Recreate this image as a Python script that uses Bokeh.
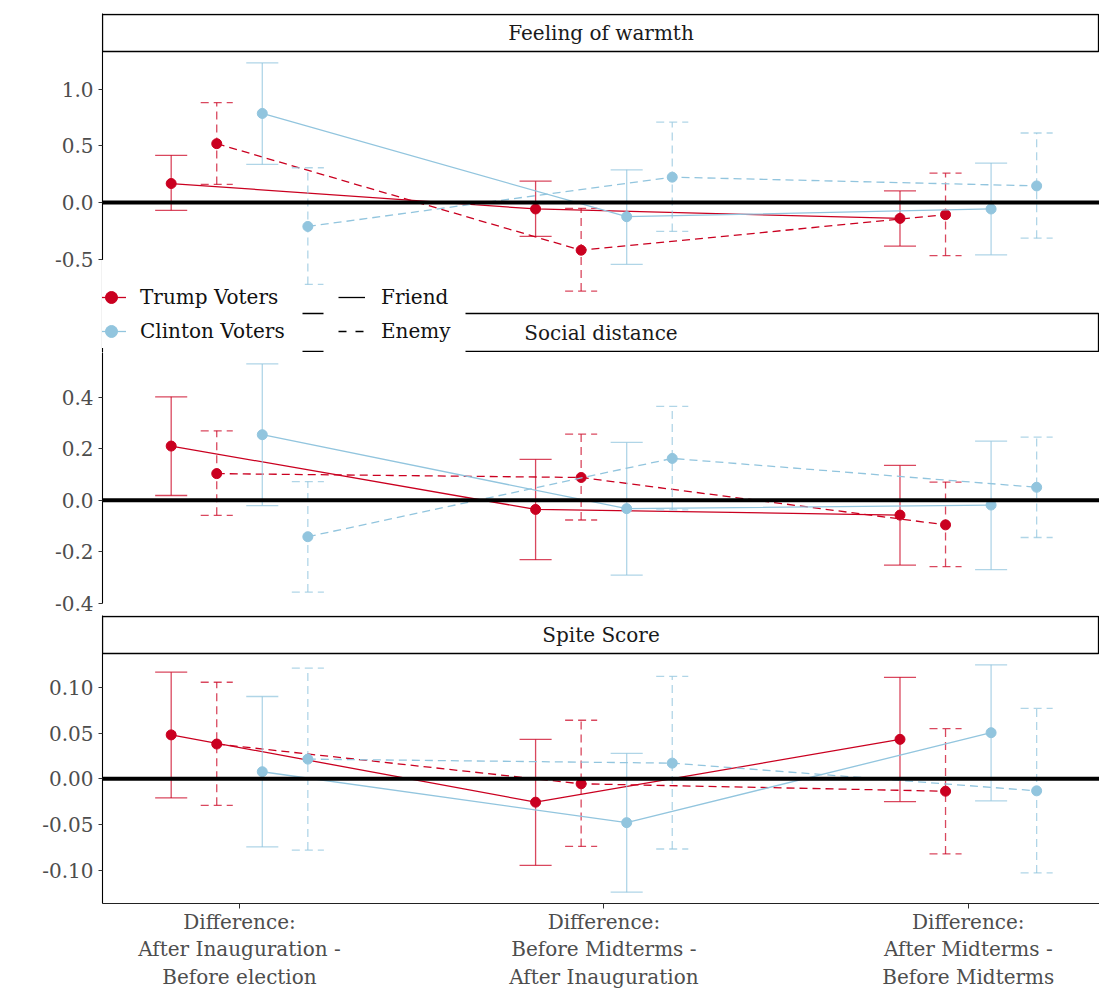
import numpy as np
from math import pi
from bokeh.plotting import figure
from bokeh.models import Range1d, FixedTicker, Span, Label, Legend, LegendItem
from bokeh.layouts import column
from bokeh.embed import file_html
from bokeh.resources import INLINE

# ---------------- data ----------------
categories = ["Difference:\nAfter Inauguration -\nBefore election",
              "Difference:\nBefore Midterms -\nAfter Inauguration",
              "Difference:\nAfter Midterms -\nBefore Midterms"]
voter_groups = ["Trump Voters", "Clinton Voters"]
relations = ["Friend", "Enemy"]

# Panel 1: strip "Feeling of warmth", y title "Spite Score"
p1_strip = "Feeling of warmth"
p1_ylabel = "Spite Score"
p1_ticks = [-0.5, 0.0, 0.5, 1.0]
p1_tick_labels = ["-0.5", "0.0", "0.5", "1.0"]
p1_trump_friend = [0.168, -0.056, -0.139]
p1_trump_friend_lo = [-0.068, -0.298, -0.383]
p1_trump_friend_hi = [0.416, 0.189, 0.103]
p1_trump_enemy = [0.519, -0.419, -0.106]
p1_trump_enemy_lo = [0.160, -0.779, -0.466]
p1_trump_enemy_hi = [0.880, -0.050, 0.259]
p1_clinton_friend = [0.785, -0.124, -0.056]
p1_clinton_friend_lo = [0.336, -0.543, -0.460]
p1_clinton_friend_hi = [1.230, 0.289, 0.348]
p1_clinton_enemy = [-0.210, 0.224, 0.147]
p1_clinton_enemy_lo = [-0.720, -0.254, -0.313]
p1_clinton_enemy_hi = [0.307, 0.708, 0.613]

# Panel 2: strip "Social distance", y title "Social Distance"
p2_strip = "Social distance"
p2_ylabel = "Social Distance"
p2_ticks = [-0.4, -0.2, 0.0, 0.2, 0.4]
p2_tick_labels = ["-0.4", "-0.2", "0.0", "0.2", "0.4"]
p2_trump_friend = [0.210, -0.036, -0.058]
p2_trump_friend_lo = [0.018, -0.231, -0.252]
p2_trump_friend_hi = [0.401, 0.158, 0.135]
p2_trump_enemy = [0.103, 0.088, -0.096]
p2_trump_enemy_lo = [-0.059, -0.077, -0.258]
p2_trump_enemy_hi = [0.269, 0.256, 0.070]
p2_clinton_friend = [0.254, -0.033, -0.019]
p2_clinton_friend_lo = [-0.021, -0.291, -0.270]
p2_clinton_friend_hi = [0.529, 0.224, 0.229]
p2_clinton_enemy = [-0.142, 0.162, 0.050]
p2_clinton_enemy_lo = [-0.357, -0.038, -0.145]
p2_clinton_enemy_hi = [0.072, 0.364, 0.245]

# Panel 3: strip "Spite Score", y title "Feeling of warmth"
p3_strip = "Spite Score"
p3_ylabel = "Feeling of warmth"
p3_ticks = [-0.10, -0.05, 0.0, 0.05, 0.10]
p3_tick_labels = ["-0.10", "-0.05", "0.00", "0.05", "0.10"]
p3_trump_friend = [0.048, -0.0256, 0.0431]
p3_trump_friend_lo = [-0.021, -0.0947, -0.0249]
p3_trump_friend_hi = [0.1166, 0.043, 0.111]
p3_trump_enemy = [0.038, -0.0055, -0.0136]
p3_trump_enemy_lo = [-0.029, -0.074, -0.0822]
p3_trump_enemy_hi = [0.1056, 0.064, 0.0548]
p3_clinton_friend = [0.0077, -0.048, 0.0504]
p3_clinton_friend_lo = [-0.0746, -0.124, -0.0241]
p3_clinton_friend_hi = [0.090, 0.0278, 0.1246]
p3_clinton_enemy = [0.0215, 0.0171, -0.0132]
p3_clinton_enemy_lo = [-0.078, -0.0768, -0.103]
p3_clinton_enemy_hi = [0.121, 0.112, 0.0771]

# ---------------- style ----------------
FONT = "DejaVu Serif"
RED = "#CA0020"
BLUE = "#92C5DE"
COLORS = {"Trump Voters": RED, "Clinton Voters": BLUE}
DASHES = {"Friend": "solid", "Enemy": "8 5"}
OFFSETS = {("Trump Voters", "Friend"): -0.1875, ("Trump Voters", "Enemy"): -0.0625,
           ("Clinton Voters", "Friend"): 0.0625, ("Clinton Voters", "Enemy"): 0.1875}
CAP = 0.044
FW = 997
XR = (0.624, 3.36)
STRIP_H = 38


def series_of(est_tf, lo_tf, hi_tf, est_te, lo_te, hi_te, est_cf, lo_cf, hi_cf, est_ce, lo_ce, hi_ce):
    return {("Trump Voters", "Friend"): (est_tf, lo_tf, hi_tf),
            ("Trump Voters", "Enemy"): (est_te, lo_te, hi_te),
            ("Clinton Voters", "Friend"): (est_cf, lo_cf, hi_cf),
            ("Clinton Voters", "Enemy"): (est_ce, lo_ce, hi_ce)}


def make_panel(series, ticks, tick_labels, ylabel, frame_h, pan_bottom, pan_h, label_y, strips,
               border_top, border_bottom, with_xaxis):
    lo = min(min(v[1]) for v in series.values())
    hi = max(max(v[2]) for v in series.values())
    span = hi - lo
    lo -= 0.05 * span
    hi += 0.05 * span
    s = (hi - lo) / pan_h
    y_start = lo - pan_bottom * s
    y_end = hi + (frame_h - pan_bottom - pan_h) * s

    p = figure(frame_width=FW, frame_height=frame_h, x_range=Range1d(*XR),
               y_range=Range1d(y_start, y_end), output_backend="svg", toolbar_location=None,
               title=None, min_border_left=102, min_border_right=0,
               min_border_top=border_top, min_border_bottom=border_bottom,
               x_axis_location="below" if with_xaxis else None, y_axis_location="left")
    p.extra_x_ranges = {"pxx": Range1d(0, FW)}
    p.extra_y_ranges = {"px": Range1d(0, frame_h)}
    p.grid.visible = False
    p.outline_line_color = None
    p.background_fill_color = "white"
    p.border_fill_color = "white"

    ya = p.yaxis[0]
    ya.ticker = FixedTicker(ticks=ticks)
    ya.major_label_overrides = {t: l for t, l in zip(ticks, tick_labels)}
    ya.axis_line_color = "black"
    ya.axis_line_width = 1.1
    ya.major_tick_out = 4
    ya.major_tick_in = 0
    ya.minor_tick_out = 0
    ya.minor_tick_in = 0
    ya.major_tick_line_color = "#333333"
    ya.major_label_text_font = FONT
    ya.major_label_text_font_size = "20px"
    ya.major_label_text_color = "#4D4D4D"
    ya.major_label_standoff = 5

    if with_xaxis:
        xa = p.xaxis[0]
        xa.ticker = FixedTicker(ticks=[1, 2, 3])
        xa.major_label_overrides = {i + 1: c for i, c in enumerate(categories)}
        xa.axis_line_color = "#222222"
        xa.axis_line_width = 1.1
        xa.major_tick_out = 5
        xa.major_tick_in = 0
        xa.minor_tick_out = 0
        xa.minor_tick_in = 0
        xa.major_tick_line_color = "#333333"
        xa.major_label_text_font = FONT
        xa.major_label_text_font_size = "20px"
        xa.major_label_text_color = "#4D4D4D"
        xa.major_label_text_line_height = 1.16
        xa.major_label_standoff = 1

    # facet strips
    for (b, t, txt) in strips:
        p.quad(left=0, right=FW - 1, bottom=b, top=t, x_range_name="pxx", y_range_name="px",
               fill_color="white", line_color="black", line_width=1.3)
        p.add_layout(Label(x=FW / 2, y=(b + t) / 2, x_range_name="pxx", y_range_name="px",
                           text=txt, text_align="center", text_baseline="middle",
                           text_font=FONT, text_font_size="20px", text_color="#1A1A1A"))

    renderers = {}
    for g in voter_groups:
        for r in relations:
            est, lo_v, hi_v = series[(g, r)]
            x = np.arange(1, len(categories) + 1) + OFFSETS[(g, r)]
            est = np.array(est); lo_v = np.array(lo_v); hi_v = np.array(hi_v)
            # error bars: shaft + caps
            x0 = np.concatenate([x, x - CAP, x - CAP])
            x1 = np.concatenate([x, x + CAP, x + CAP])
            y0 = np.concatenate([lo_v, lo_v, hi_v])
            y1 = np.concatenate([hi_v, lo_v, hi_v])
            p.segment(x0=x0, y0=y0, x1=x1, y1=y1, line_color=COLORS[g], line_alpha=0.72,
                      line_width=1.3, line_dash=DASHES[r])
            ln = p.line(x=x, y=est, line_color=COLORS[g], line_width=1.3, line_dash=DASHES[r])
            sc = p.scatter(x=x, y=est, size=10, fill_color=COLORS[g], line_color=COLORS[g])
            renderers[(g, r)] = (ln, sc)

    p.add_layout(Span(location=0, dimension="width", line_color="black", line_width=4))

    p.add_layout(Label(x=-78, y=label_y, x_range_name="pxx", y_range_name="px", text=ylabel,
                       angle=pi / 2, text_align="center", text_baseline="middle",
                       text_font=FONT, text_font_size="20px", text_color="black"))
    return p, renderers


s1 = series_of(p1_trump_friend, p1_trump_friend_lo, p1_trump_friend_hi,
               p1_trump_enemy, p1_trump_enemy_lo, p1_trump_enemy_hi,
               p1_clinton_friend, p1_clinton_friend_lo, p1_clinton_friend_hi,
               p1_clinton_enemy, p1_clinton_enemy_lo, p1_clinton_enemy_hi)
s2 = series_of(p2_trump_friend, p2_trump_friend_lo, p2_trump_friend_hi,
               p2_trump_enemy, p2_trump_enemy_lo, p2_trump_enemy_hi,
               p2_clinton_friend, p2_clinton_friend_lo, p2_clinton_friend_hi,
               p2_clinton_enemy, p2_clinton_enemy_lo, p2_clinton_enemy_hi)
s3 = series_of(p3_trump_friend, p3_trump_friend_lo, p3_trump_friend_hi,
               p3_trump_enemy, p3_trump_enemy_lo, p3_trump_enemy_hi,
               p3_clinton_friend, p3_clinton_friend_lo, p3_clinton_friend_hi,
               p3_clinton_enemy, p3_clinton_enemy_lo, p3_clinton_enemy_hi)

# figure 1: strip1 + panel1 + gap + strip2
F1_H = 339
f1, r1 = make_panel(s1, p1_ticks, p1_tick_labels, p1_ylabel, F1_H, 50, 251, 208,
                    [(F1_H - STRIP_H - 0, F1_H - 1, p1_strip), (1, 39, p2_strip)],
                    13, 0, False)
# figure 2: panel 2
f2, r2 = make_panel(s2, p2_ticks, p2_tick_labels, p2_ylabel, 251, 0, 251, 161, [], 0, 12, False)
# figure 3: strip3 + panel 3 + x axis
F3_H = 288
f3, r3 = make_panel(s3, p3_ticks, p3_tick_labels, p3_ylabel, F3_H, 0, 250, 128,
                    [(250, F3_H - 1, p3_strip)], 0, 0, True)

# legend key renderers for the line types (data lies outside the visible range)
blk_solid = f1.line(x=[-5, -4], y=[0, 0], line_color="black", line_width=1.3)
blk_dash = f1.line(x=[-5, -4], y=[0, 0], line_color="black", line_width=1.3, line_dash="8 9")

# white boxes behind the two legend keys (cover lower panel 1 and the strip of panel 2)
f1.quad(left=[0, 221], right=[200, 363], bottom=[0, 0], top=[97, 97],
        x_range_name="pxx", y_range_name="px", fill_color="white", line_color=None)

common = dict(background_fill_color="white", background_fill_alpha=1.0, border_line_color=None,
              spacing=0, glyph_height=34, label_height=34, label_text_font=FONT,
              label_text_font_size="20px", label_text_color="#111111", title=" ",
              title_text_font_size="16px", title_standoff=2, margin=0, padding=0)
leg1 = Legend(items=[LegendItem(label=voter_groups[0], renderers=list(r1[("Trump Voters", "Friend")])),
                     LegendItem(label=voter_groups[1], renderers=list(r1[("Clinton Voters", "Friend")]))],
              location=(-6, 4), glyph_width=30, label_standoff=14, label_width=162, **common)
leg2 = Legend(items=[LegendItem(label=relations[0], renderers=[blk_solid]),
                     LegendItem(label=relations[1], renderers=[blk_dash])],
              location=(236, 4), glyph_width=27, label_standoff=16, label_width=84, **common)
f1.add_layout(leg1)
f1.add_layout(leg2)

layout = column(f1, f2, f3)
open("out.html", "w").write(file_html(layout, INLINE))
